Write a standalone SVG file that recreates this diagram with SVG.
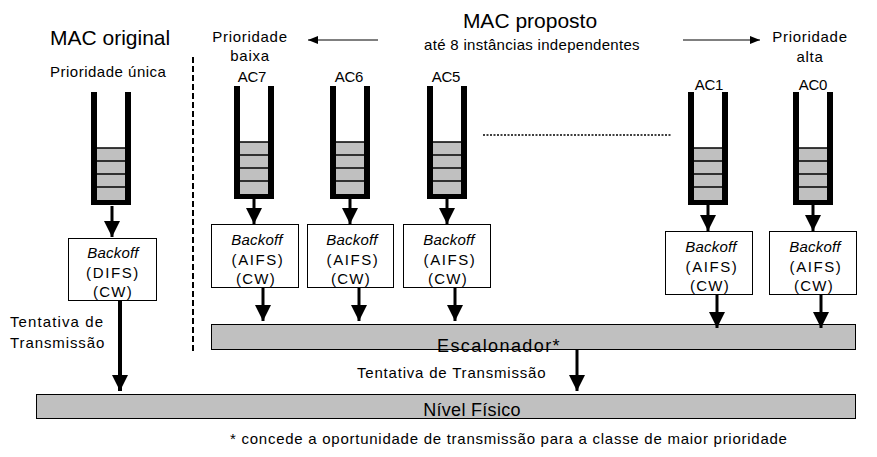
<svg xmlns="http://www.w3.org/2000/svg" xmlns:xlink="http://www.w3.org/1999/xlink" width="877" height="457" viewBox="0 0 877 457">
<style>
text{font-family:"Liberation Sans",Arial,sans-serif;fill:#000;}
.t{font-size:15px;letter-spacing:0.7px;}
.title{font-size:21px;}
.c{text-anchor:middle;}
.i{font-style:italic;letter-spacing:0.2px;}
.p{letter-spacing:1.6px;}
.w{letter-spacing:1.2px;}
.ac{letter-spacing:-0.3px;}
.box{fill:#fff;stroke:#000;stroke-width:1;}
.bar{fill:#c0c0c0;stroke:#000;stroke-width:1;}
.arr{stroke:#000;stroke-width:3;fill:none;marker-end:url(#ah);}
.big{stroke:#000;stroke-width:4;fill:none;marker-end:url(#ah);}
.thin{stroke:#000;stroke-width:1;fill:none;marker-end:url(#sh);}
</style>
<defs>
<marker id="ah" viewBox="0 0 16 16" refX="16" refY="8" markerWidth="16" markerHeight="16" markerUnits="userSpaceOnUse" orient="auto"><path d="M0,0 L16,8 L0,16 z" fill="#000"/></marker>
<marker id="sh" viewBox="0 0 10 8" refX="10" refY="4" markerWidth="10" markerHeight="8" markerUnits="userSpaceOnUse" orient="auto"><path d="M0,0 L10,4 L0,8 z" fill="#000"/></marker>
<g id="queue">
<rect x="6" y="56" width="28" height="52" fill="#c0c0c0"/>
<g stroke="#000" stroke-width="1.5"><line x1="6" y1="56" x2="34" y2="56"/><line x1="6" y1="69" x2="34" y2="69"/><line x1="6" y1="82" x2="34" y2="82"/><line x1="6" y1="95" x2="34" y2="95"/></g>
<path d="M0,0 H6 V108 H34 V0 H40 V113 H0 Z" fill="#000"/>
</g>
</defs>

<g id="headers">
<text class="title" x="50" y="45">MAC original</text>
<text class="t" x="50" y="77" style="letter-spacing:0.5px">Prioridade única</text>
<text class="title c" x="530" y="28">MAC proposto</text>
<text class="t c" x="532" y="50" style="letter-spacing:0.3px">até 8 instâncias independentes</text>
<text class="t c" x="250" y="42">Prioridade</text>
<text class="t c" x="250" y="61">baixa</text>
<text class="t c" x="810" y="42">Prioridade</text>
<text class="t c" x="810" y="62">alta</text>
<line x1="378" y1="40" x2="308" y2="40" class="thin"/>
<line x1="683" y1="40" x2="760" y2="40" class="thin"/>
<line x1="193" y1="57" x2="193" y2="354" stroke="#000" stroke-width="2" stroke-dasharray="6,3"/>
<line x1="483" y1="135" x2="672" y2="135" stroke="#000" stroke-width="1.5" stroke-dasharray="2,1.5"/>
</g>

<g id="q-orig"><use xlink:href="#queue" x="91" y="92"/></g>
<g id="q-ac7"><text class="t c ac" x="252" y="82">AC7</text><use xlink:href="#queue" x="234" y="86"/></g>
<g id="q-ac6"><text class="t c ac" x="349" y="82">AC6</text><use xlink:href="#queue" x="330" y="86"/></g>
<g id="q-ac5"><text class="t c ac" x="446" y="82">AC5</text><use xlink:href="#queue" x="427" y="86"/></g>
<g id="q-ac1"><text class="t c ac" x="709" y="90">AC1</text><use xlink:href="#queue" x="688" y="92"/></g>
<g id="q-ac0"><text class="t c ac" x="813" y="90">AC0</text><use xlink:href="#queue" x="793" y="92"/></g>

<g id="b-orig"><rect class="box" x="68.5" y="238.5" width="88" height="62"/>
<text class="t c i" x="113" y="258">Backoff</text><text class="t c p" x="113" y="278">(DIFS)</text><text class="t c w" x="113" y="297">(CW)</text></g>
<g id="b-ac7"><rect class="box" x="211.5" y="224.5" width="87" height="63"/>
<text class="t c i" x="257" y="245">Backoff</text><text class="t c p" x="258" y="265">(AIFS)</text><text class="t c w" x="256" y="284">(CW)</text></g>
<g id="b-ac6"><rect class="box" x="307.5" y="224.5" width="86" height="63"/>
<text class="t c i" x="352" y="245">Backoff</text><text class="t c p" x="353" y="265">(AIFS)</text><text class="t c w" x="351" y="284">(CW)</text></g>
<g id="b-ac5"><rect class="box" x="403.5" y="224.5" width="87" height="63"/>
<text class="t c i" x="449" y="245">Backoff</text><text class="t c p" x="450" y="265">(AIFS)</text><text class="t c w" x="448" y="284">(CW)</text></g>
<g id="b-ac1"><rect class="box" x="665.5" y="231.5" width="87" height="63"/>
<text class="t c i" x="711" y="252">Backoff</text><text class="t c p" x="712" y="272">(AIFS)</text><text class="t c w" x="710" y="291">(CW)</text></g>
<g id="b-ac0"><rect class="box" x="769.5" y="231.5" width="87" height="63"/>
<text class="t c i" x="815" y="252">Backoff</text><text class="t c p" x="816" y="272">(AIFS)</text><text class="t c w" x="814" y="291">(CW)</text></g>

<g id="escalonador"><rect class="bar" x="211.5" y="324.5" width="644" height="25"/>
<text class="c" x="499" y="352" style="font-size:18px;letter-spacing:1.4px">Escalonador*</text></g>
<g id="nivel-fisico"><rect class="bar" x="36.5" y="394.5" width="819" height="24"/>
<text class="c" x="472" y="416" style="font-size:18px;letter-spacing:0.3px">Nível Físico</text></g>

<g id="connectors">
<line class="arr" x1="112" y1="206" x2="112" y2="237"/>
<line class="arr" x1="254" y1="198" x2="254" y2="224"/>
<line class="arr" x1="350" y1="198" x2="350" y2="224"/>
<line class="arr" x1="447" y1="198" x2="447" y2="224"/>
<line class="arr" x1="708" y1="205" x2="708" y2="231"/>
<line class="arr" x1="813" y1="205" x2="813" y2="231"/>
<line class="arr" x1="263" y1="288" x2="263" y2="321"/>
<line class="arr" x1="359" y1="288" x2="359" y2="321"/>
<line class="arr" x1="455" y1="288" x2="455" y2="321"/>
<line class="arr" x1="717" y1="295" x2="717" y2="328"/>
<line class="arr" x1="821" y1="295" x2="821" y2="328"/>
<line class="big" x1="120" y1="301" x2="120" y2="391"/>
<line class="arr" x1="577" y1="350" x2="577" y2="391"/>
</g>

<g id="labels">
<text class="t" x="10" y="327" style="letter-spacing:1.1px">Tentativa de</text>
<text class="t" x="10" y="348" style="letter-spacing:0.9px">Transmissão</text>
<text class="t" x="357" y="378" style="letter-spacing:0.8px">Tentativa de Transmissão</text>
<text class="t" x="230" y="444" style="letter-spacing:0.74px">* concede a oportunidade de transmissão para a classe de maior prioridade</text>
</g>
</svg>
